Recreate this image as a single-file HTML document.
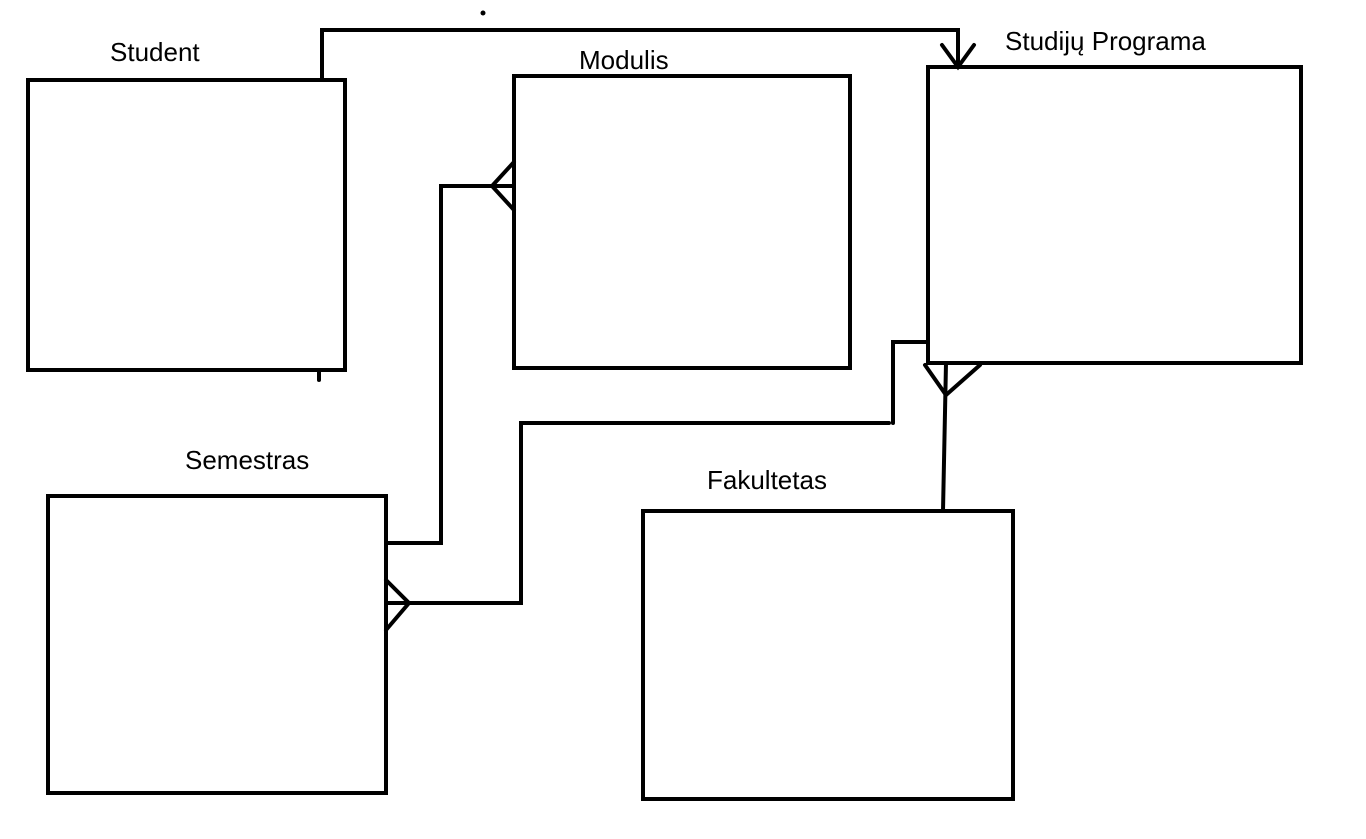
<!DOCTYPE html>
<html><head><meta charset="utf-8"><style>
html,body{margin:0;padding:0;background:#fff;}
svg{display:block;}
text{font-family:"Liberation Sans",sans-serif;font-size:26px;fill:#000;}
</style></head><body>
<svg width="1366" height="839" viewBox="0 0 1366 839" xmlns="http://www.w3.org/2000/svg">
<g fill="none" stroke="#000" stroke-width="4" stroke-linecap="round" stroke-linejoin="miter">
<rect x="28" y="80" width="317" height="290"/>
<rect x="514" y="76" width="336" height="292"/>
<rect x="928" y="67" width="373" height="296"/>
<rect x="48" y="496" width="338" height="297"/>
<rect x="643" y="511" width="370" height="288"/>
<polyline points="322,80 322,30 958,30 958,67"/>
<polyline points="942,45 958,67 974,45"/>
<line x1="319" y1="370" x2="319" y2="380"/>
<polyline points="386,543 441,543 441,186 514,186"/>
<polyline points="514,162 492,186 514,210"/>
<polyline points="386,603 521,603 521,423 889,423"/>
<polyline points="893,423 893,342 928,342"/>
<polyline points="386,580 409,603 386,630"/>
<polyline points="943,511 946,363"/>
<polyline points="925,365 946,395 980,365"/>
</g>
<circle cx="483" cy="13" r="2.5" fill="#000"/>
<text x="110" y="61">Student</text>
<text x="579" y="69">Modulis</text>
<text x="1005" y="50">Studijų Programa</text>
<text x="185" y="469">Semestras</text>
<text x="707" y="489">Fakultetas</text>
</svg>
</body></html>
